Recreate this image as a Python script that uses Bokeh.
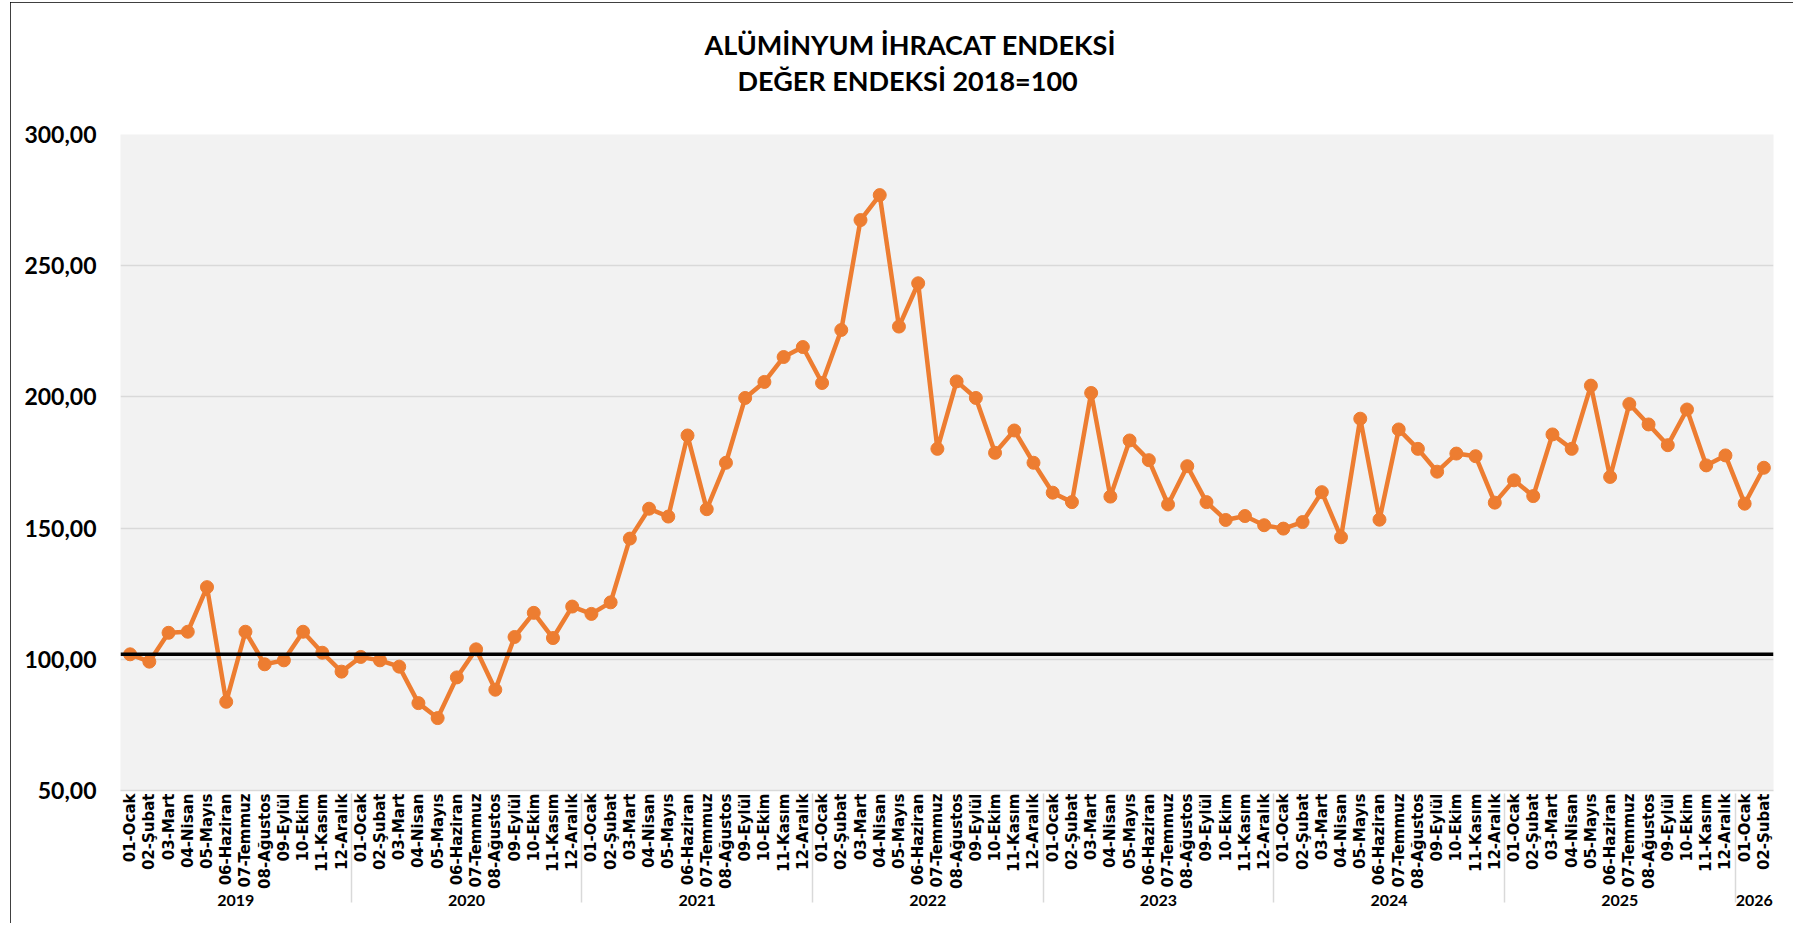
import math
from bokeh.plotting import figure
from bokeh.models import (FactorRange, Range1d, Span, Title, CustomJSTickFormatter,
                          FixedTicker, ColumnDataSource)
from bokeh.embed import file_html
from bokeh.resources import INLINE

# ---------------- data ----------------
years = ["2019", "2020", "2021", "2022", "2023", "2024", "2025", "2026"]
months = ["01-Ocak", "02-Şubat", "03-Mart", "04-Nisan", "05-Mayıs", "06-Haziran",
          "07-Temmuz", "08-Ağustos", "09-Eylül", "10-Ekim", "11-Kasım", "12-Aralık"]
months_per_year = [12, 12, 12, 12, 12, 12, 12, 2]

v2019 = [101.9, 99.1, 110.1, 110.5, 127.5, 83.8, 110.5, 98.1, 99.6, 110.5, 102.5, 95.3]
v2020 = [100.9, 99.6, 97.2, 83.3, 77.6, 93.1, 103.8, 88.4, 108.5, 117.7, 108.1, 120.1]
v2021 = [117.3, 121.7, 146.0, 157.4, 154.4, 185.3, 157.2, 174.9, 199.6, 205.7, 215.2, 219.0]
v2022 = [205.3, 225.5, 267.4, 276.9, 226.8, 243.3, 180.2, 205.9, 199.6, 178.7, 187.2, 174.9]
v2023 = [163.5, 159.9, 201.5, 162.0, 183.4, 175.9, 159.0, 173.6, 159.9, 153.1, 154.6, 151.1]
v2024 = [149.8, 152.3, 163.7, 146.5, 191.7, 153.2, 187.6, 180.2, 171.5, 178.4, 177.4, 159.7]
v2025 = [168.2, 162.2, 185.7, 180.2, 204.3, 169.5, 197.3, 189.5, 181.6, 195.2, 173.9, 177.7]
v2026 = [159.3, 173.0]

referans = 101.9
y_ticks = [50, 100, 150, 200, 250, 300]

title_line1 = "ALÜMİNYUM İHRACAT ENDEKSİ"
title_line2 = "DEĞER ENDEKSİ 2018=100"

# ---------------- build ----------------
factors = [(y, m) for y, n in zip(years, months_per_year) for m in months[:n]]
values = v2019 + v2020 + v2021 + v2022 + v2023 + v2024 + v2025 + v2026
src = ColumnDataSource(dict(x=factors, y=values))

x_range = FactorRange(*factors, factor_padding=0, subgroup_padding=0,
                      group_padding=0, range_padding=0)

p = figure(x_range=x_range, y_range=Range1d(50, 300), width=1783, height=921,
           output_backend="svg", toolbar_location=None, title=None,
           background_fill_color="#F2F2F2", border_fill_color="white",
           outline_line_color=None,
           min_border_left=110, min_border_right=20, min_border_top=132,
           min_border_bottom=133)

p.styles = {"outline": "2px solid black", "outline-offset": "-2px",
            "margin-left": "10px", "margin-top": "2px"}

t2 = Title(text=title_line2, align="left", text_font="Lato",
           text_font_size="27px", text_font_style="bold", text_color="black",
           standoff=76, offset=617)
t1 = Title(text=title_line1, align="left", text_font="Lato",
           text_font_size="27px", text_font_style="bold", text_color="black",
           standoff=-74, offset=584)
p.add_layout(t2, "above")
p.add_layout(t1, "above")

p.line("x", "y", source=src, line_color="#ED7D31", line_width=4.5)
p.scatter("x", "y", source=src, size=13, fill_color="#ED7D31", line_color="#ED7D31")

p.add_layout(Span(location=referans, dimension="width", line_color="black",
                  line_width=3.5))

# y axis
p.yaxis.ticker = FixedTicker(ticks=y_ticks)
p.yaxis.formatter = CustomJSTickFormatter(code="return tick.toFixed(2).replace('.', ',');")
p.yaxis.axis_line_color = None
p.yaxis.major_tick_line_color = None
p.yaxis.minor_tick_line_color = None
p.yaxis.major_tick_out = 0
p.yaxis.major_label_standoff = 24
p.yaxis.major_label_text_font = "Lato"
p.yaxis.major_label_text_font_size = "23px"
p.yaxis.major_label_text_font_style = "bold"
p.yaxis.major_label_text_color = "black"

p.ygrid.grid_line_color = "#D9D9D9"
p.ygrid.grid_line_width = 1.5
p.xgrid.grid_line_color = None

# x axis
p.xaxis.axis_line_color = "#D9D9D9"
p.xaxis.axis_line_width = 1.5
p.xaxis.major_tick_line_color = None
p.xaxis.minor_tick_line_color = None
p.xaxis.major_tick_out = 0
p.xaxis.major_label_standoff = 3
p.xaxis.major_label_orientation = math.pi / 2
p.xaxis.major_label_text_font = "DejaVu Sans"
p.xaxis.major_label_text_font_size = "15px"
p.xaxis.major_label_text_font_style = "bold"
p.xaxis.major_label_text_color = "black"
p.xaxis.group_text_font = "Lato"
p.xaxis.group_text_font_size = "16px"
p.xaxis.group_text_font_style = "bold"
p.xaxis.group_text_color = "black"
p.xaxis.separator_line_color = "#D9D9D9"
p.xaxis.separator_line_width = 1.5

open("out.html", "w").write(file_html(p, INLINE))
